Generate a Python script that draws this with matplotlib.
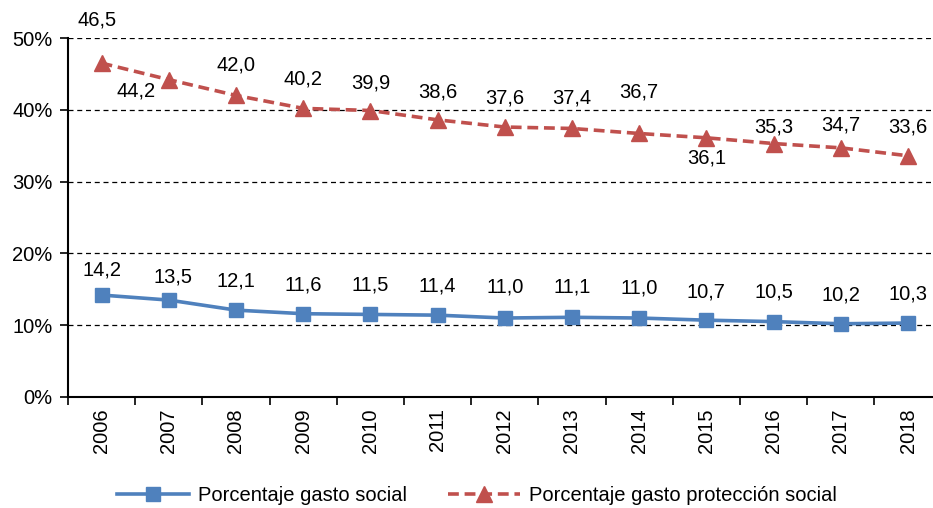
import matplotlib
matplotlib.use("Agg")
import matplotlib.pyplot as plt
from matplotlib.ticker import FuncFormatter, FixedLocator

plt.rcParams['font.family'] = ['Liberation Sans', 'DejaVu Sans']

years = ["2006", "2007", "2008", "2009", "2010", "2011", "2012",
         "2013", "2014", "2015", "2016", "2017", "2018"]
gasto_social = [14.2, 13.5, 12.1, 11.6, 11.5, 11.4, 11.0, 11.1, 11.0, 10.7, 10.5, 10.2, 10.3]
gasto_proteccion = [46.5, 44.2, 42.0, 40.2, 39.9, 38.6, 37.6, 37.4, 36.7, 36.1, 35.3, 34.7, 33.6]

# label offsets in pixels relative to each marker
off_social = [(0, 25), (4, 23), (0, 29), (0, 29), (0, 29), (0, 29), (0, 31),
              (0, 30), (0, 30), (0, 28), (0, 30), (0, 29), (0, 29)]
off_prot = [(-5, 43), (-33, -11), (0, 30), (0, 29), (0, 28), (0, 28), (0, 29),
            (0, 30), (0, 41), (0, -20), (0, 17), (0, 23), (0, 29)]

blue = "#4F81BD"
red = "#C0504D"
fs = 14.5

fig = plt.figure(figsize=(9.33, 5.08), dpi=100)
ax = fig.add_axes([68 / 933, 111 / 508, 873.6 / 933, 359 / 508])

x = list(range(len(years)))
ax.plot(x, gasto_social, color=blue, lw=2.6, marker="s", markersize=10.5,
        label="Porcentaje gasto social", zorder=3)
ax.plot(x, gasto_proteccion, color=red, lw=2.6, ls=(0, (3, 1.6)), marker="^",
        markersize=11.5, label="Porcentaje gasto protección social", zorder=3)

for xi, v, (dx, dy) in zip(x, gasto_social, off_social):
    ax.annotate(f"{v:.1f}".replace(".", ","), (xi, v), xytext=(dx, dy),
                textcoords="offset pixels", ha="center", va="center", fontsize=fs)
for xi, v, (dx, dy) in zip(x, gasto_proteccion, off_prot):
    ax.annotate(f"{v:.1f}".replace(".", ","), (xi, v), xytext=(dx, dy),
                textcoords="offset pixels", ha="center", va="center", fontsize=fs)

ax.set_xlim(-0.5, len(years) - 0.5)
ax.set_ylim(0, 50)
ax.set_yticks(range(0, 51, 10))
ax.yaxis.set_major_formatter(FuncFormatter(lambda v, p: f"{v:.0f}%"))
ax.set_xticks(x)
ax.set_xticklabels(years, rotation=90)
ax.xaxis.set_minor_locator(FixedLocator([i - 0.5 for i in range(len(years) + 1)]))
ax.tick_params(axis="x", which="major", length=0, pad=8, labelsize=fs)
ax.tick_params(axis="x", which="minor", length=6, width=1.2, direction="out")
ax.tick_params(axis="y", length=6, width=1.2, labelsize=fs, pad=5)

for yv in range(10, 51, 10):
    ax.axhline(yv, color="black", lw=0.9, ls=(0, (4, 3)), zorder=1)

for s in ("top", "right"):
    ax.spines[s].set_visible(False)
for s in ("left", "bottom"):
    ax.spines[s].set_linewidth(1.5)

fig.legend(loc="center", bbox_to_anchor=(0.5113, 0.024), ncol=2, frameon=False,
           fontsize=fs, handlelength=3.6, columnspacing=2.0, handletextpad=0.45)

fig.savefig("out.png", dpi=100)
